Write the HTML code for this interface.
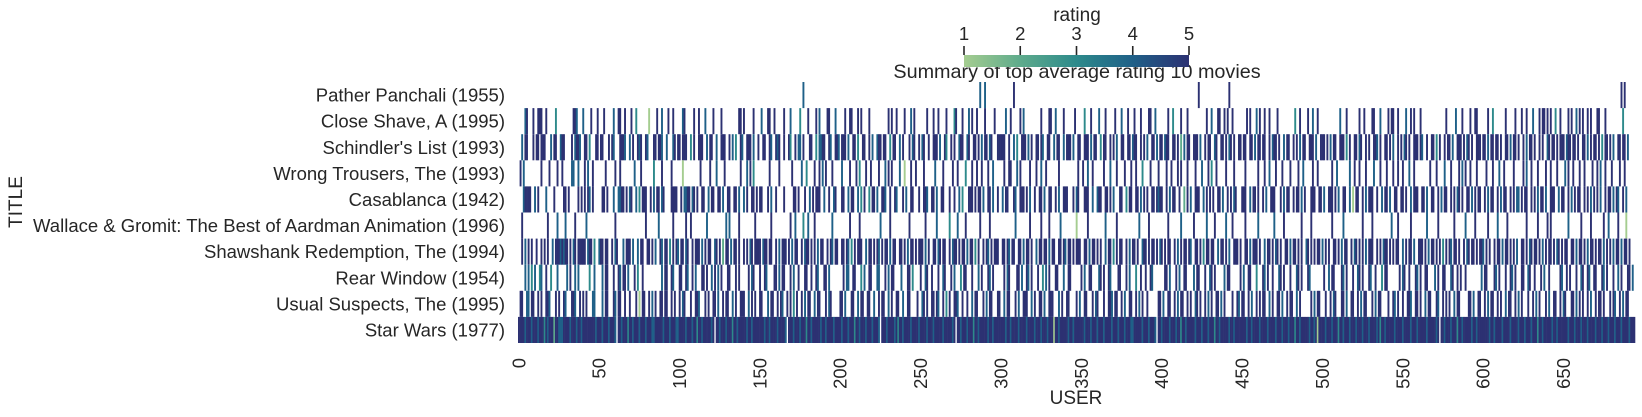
<!DOCTYPE html>
<html><head><meta charset="utf-8"><style>
body{margin:0;background:#fff;}
svg{display:block;font-family:"Liberation Sans","DejaVu Sans",sans-serif;}
</style></head><body>
<svg id="chart" width="1642" height="417">
<defs><linearGradient id="crest" x1="0" x2="1" y1="0" y2="0">
<stop offset="0" stop-color="#a5cd90"/><stop offset="0.25" stop-color="#5eab8c"/><stop offset="0.5" stop-color="#2d8a8b"/><stop offset="0.75" stop-color="#1f6088"/><stop offset="1" stop-color="#2c3172"/></linearGradient></defs>
<g id="cells"></g>
<g id="ylabels"></g>
<g id="xlabels"></g>
<text x="22" y="202" transform="rotate(-90 22 202)" text-anchor="middle" font-size="19" fill="#262626">TITLE</text>
<text x="1076" y="404" text-anchor="middle" font-size="19" fill="#262626">USER</text>
<text x="1077" y="78" text-anchor="middle" font-size="19.8" fill="#262626">Summary of top average rating 10 movies</text>
<g id="colorbar">
<text x="1077" y="21" text-anchor="middle" font-size="19" fill="#262626">rating</text>
<rect x="964" y="55" width="225" height="12" fill="url(#crest)"/>
</g>
</svg>
<script>
const titles=["Pather Panchali (1955)","Close Shave, A (1995)","Schindler's List (1993)","Wrong Trousers, The (1993)","Casablanca (1942)","Wallace & Gromit: The Best of Aardman Animation (1996)","Shawshank Redemption, The (1994)","Rear Window (1954)","Usual Suspects, The (1995)","Star Wars (1977)"];
const xTicks=[0,50,100,150,200,250,300,350,400,450,500,550,600,650];
const cbTicks=[1,2,3,4,5];
const row0Points=[[177,4],[287,4],[290,4],[308,5],[423,5],[442,5],[686,5],[688,5]];
const row1=
"....45...5..555..5.....3..........554...4....5...5"+"...5.....4..55..5...5..3.......1....5..4...5..5..."+"..45.....5..5...4....5....5..........55.5.....5..."+".4...55..5.....5...4.....3....5....5.4....55...4.."+"...5..55...5.5....5...........5.5..5....5...4.5..."+"....5...5..5....5....35...5...4.5..5....5.....5..."+"...4..5.....5.4..........5....55..4....5......5..."+"..3...5....4...5.....5...4...5...5...5....55..4..."+"....5..3....5...5...........5..4...55..5.5..5....."+"...5.5...4.5..5..5....5..........3..5....5..4..5.."+"...........4...5.......5..5....55...4....5.55..5.."+"..4..5.5...5...............5.....4...5....5..55..."+"...5..3.......5.....5...5..5...4...5.55.5.5..3..5."+"...5.5..4.5.5..5.5...55...5..........3";
const row2=
"..4.55...5.55.555...4.55..455....5.4554..55.3...55"+".55...5.54...5554..4.5..545..54...55.554..4...45.5"+"5.555..3.5..555..4.55..4..555..5.4.3..54..555.4..5"+"..55..54..545..5..53..5.44.5...55..3.4455..54..554"+".555.4..55.3..55..5.4..455.55..3.55..4.5...5.45..5"+".45..5..555.4..53..5.5..455..45..55.5.4.55.45...55"+"555..5..4.3..555.4.5..55.54..55..4.55..4.555.4..55"+"..555.4.55..3.55..5.5.4..55..55.455..5.5.4..55.4.5"+"5.455..55.5.2.4.55..555.4..5.55..45..55.5.45.5..55"+".55..55.4.55.55..5.455.5..4.55..5.5.4.55..555.4..5"+"55.5.4.55..555.3.5..55.45..5.5..554.5..55.5.4..5.5"+".45.5..555.54..5..55.3.5..5.55.4..555.5.45.5..555."+"55.4.55.55.5..55.4.55.5..5.4.55.5..5.5..45.55.5.55"+"5.455.55.5..55.4.5.55.5.3.55.5.4..55.55.4";
const row3=
".5.4..........5....5....5..5.....44..4...5.4..5..."+"....5.....5..5........4...5.......3....5.....5...."+"..1..........5.....5...4....5.........5...4.5.3..."+"......5.....5.......5.....4..3....5..5.4.5...5...."+".4....5...5.3...5..5....5...4.5.5....4..1...5..5.."+"..5......4....5.....5..5....3...5..5..5...5..4...."+"..5..55...4.5.....5...5..4..5.......5...........5."+".5..4..5......5...4...5....5...5..5...3....5....5."+"...5..5...5.5...5....5...4...5.3..5.....5....5...."+"..5.......5...5..4...5...5....5....5..4.....5..5.."+"......5..4.......4..5..5...5....4...5...5...5..5.."+"5...4..5.........5...5....4...5....5.4.5..5...5..."+"..5...5...4..5.....5.....5.4..5...5....5..5...5..."+".4.5..5...5..5....5..5.4..5...5....5..5.";
const row4=
"...45555..4.5....4....5.....55.5.....5.5.5.54.5..."+"..55.5...4..4455.5.45..4.3.555..5.4.55.45....5555."+".5.4455.45.5..55..4.55..55.4..55..55.4..4.5..55.5."+"55...5.4..5....5.....55.5...5..4.5.555..4..5..45.."+".55..4.55..4.3.5..3.55.4..554..5..54...5.4..55...5"+"..554..55.4..55...5..5..4.3...555.5.55.4..55.4..5."+".4.55...54..555.5.4..5..55.4..55..5.4..555...5.45."+"..555..4..455..55.5.4...55..3.55..55.4.5.5..55.54"+"55..5.4.55..5..2.5.4..555..4.5.5.5..55.4..5.5.45.."+".555..4.55.5..5.4..555...5.4.55..5.55.4.5...555..5"+"5.4..555.5.4..55..4.1.55..5.4.555..5..4.55.4..55."+".55.5..4.555..55.4..55..5.4.55..5.5.45.5..55.4.5."+"55..5.4.55..5.4.55..5.5.44.5.55..5.5.4.55.4..555."+".4.55..5.4.5.55..5.5.4.5.5.4..5.55.4.54"+"..5.4";
const row5=
"..5...............5.....4....4.....5......4......."+"..........5..................5.......4........5..."+"....5..5.........4...........4.4.....5.........5.."+".......5...........5..4....3..4...5..........4...."+"......5.....5............4.....5...........5......"+"...5......4.......3....4....5........5.....5......"+".........4........5......5....5......4.........1.."+"....5..........4......5.............4.....5......."+"....5.......4.......5.......4....5......4...5....."+"..5.......4.........4.....5..........5.....5......"+"......5......4...........5.....5...........4...5.."+".....5.........4......5.........5......4.....5...."+"...5.....4.....5...........5......5.....5.5......."+"...4.......5.....5.......5..4.....5....1";
const row6=
"..5.4.5.5..5..5.5.5..4.55545455.5.45.55555.455.3.."+"455.55..5.45...4.555.4..4.55..55.5.4..54.55.3.5.54"+".55.45..5.555.4.5.55..45.5.2.55.4.55.5..5.5.45.555"+"5.455.55..5.4.555.5.4.55..5.455.5.5.4.55..5.54.55."+".55.54.3.5.555..4.55.5.54.5.55.4.55..55.5.4.55.5.5"+"55.4.5..55.45.55..5.455.5.55.4.55.3.5..5.54.5.555."+".55.54.55..55.4.55.5..4.55.55.4.55..55.54.55.5.55"+"5..55.4.55.5.5..4.55.3.5.55..5.4.55.5..455.5.55.5"+".45.5.55..5.4.5.55.54..55.5.3.55.55..4.55.5.4..55"+"5.5..55.4.555.5..4.55.5.45.5..55.4.55.5.5..45.5.5"+".55.4.5.5..55.5.4.55..5.45.5.5.4.555..5.5.455.5.5."+"55..4.5.55.4..555.5.4.55.5.5.3.5.54.55.5..5.45.55"+".5.554.5.5..5.55.4.55.5.5.4..55.5.45.55.5.4.5.55."+"5.45.5.55..55.4.55.5.4.55.5.55.4.5.5.4.5"+"5.4.55.5";
const row7=
"....4.4.3.4..34..5..3...4.....4.5..4.4......3..4.."+"..4.55...5..54.55.4...5.3..5...........4.55..54..."+"55..54..5.4...55.5..4.5.4.5...55...5.5.....5.45..."+"5..54....55.4.55...5.4..5...55..5..54...55.4......"+"..5.44..55...3.4..55...44...5.4.55....4...55.3...."+"5..45..5...5..45...5.4...3.55...5...4.5...54.5...."+"..5.45....55.4..54.5...5..3.4.5...55...4..55......"+"5.4..55....45.5..54....55...5.4...3..5..5..54....."+"..55.4...5.4..55....4.55...5..45.5.....4.55......"+"5.4..55...3...54.5..5...45.5...5...45.5...54......"+"..5..4.55....54.5...5..45.5...54..5...3.55......."+"5.45..5...54.5..55....4.5..55...45..5.5..5......."+"..4.55....54.5...5..54.5...55..45..5...5.4..5...."+"..54..5.5...5..45..54..55...54.5..."+"5..4.5...55.4..5.";
const row8=
".55..44.55..5.5..554...5.5..54...554..5.5.5...44.."+"..4.55...54.55..5..5...5.1.55..5.4.5..55.55..5.5.."+"5.45...5..554...5.5..55.4..5.55..4.5..555..4.5.5.."+"55...4.55..5.54..5.5.3.5..5.4.55..4.55...5.45...."+".55.4...55..4.55..55..4..5.55..4.5..55..4..55...."+"5..45.5..55.54..5.3.5..554..5..5..4.55...5.4.55.."+".55..4.55...5.4..555..4.5..55.4..555...4.5..55...."+"5.4..55...5.45...5..554.55..5.4..55..5.4.5..5...."+"..55.4..55..5.4.55..5.5..45.5..5.4.5..55.4.5...."+"5..54.55..5.4..5.5.55..4.5..55.4..5.55..4.5....."+".5.4.55...5..5.45...55.4..55..5.4.55...5.4.55...."+"5..54.5..5..554..55.5..4.55...54..5.5.5..4.55...."+".55.4..55..5.4.55..5.5..4.55..5.4.5...5..5.4.5..."+"5.4..55..5.45...55.4.5.5..5.4..5.55.5."+"..5.54..5.4.55";
const row9=
"55554555455545553545552554445555455545545555555545"+"55455545554.5545553554555455545554455555455545554"+"45555455545535545555545.554555455535545555545545555"+"55545545555455554.5554555455535545555545545555455"+"55455545553554555455545554.55545555453554555545555"+"45555455545555545555545.554555455535545555545545555"+"55545545555455554555545554555455515545555545545555"+"55455545554555455554555455545554455555455545554.55"+"45555455545535545555545554555455535545555545545555"+"55545545555455554555545554555455535545555545545155"+"55455545553554555455545554555455554535545555545555"+"45555455545555545555545.554555455535545555545545555"+"55545545555455554555545554555455535545555545545555"+"5545554555455545555455545554555455545"+"55545553545";
const rowStrings=[null,row1,row2,row3,row4,row5,row6,row7,row8,row9];
const N=695, X0=518, X1=1635, Y0=82, Y1=343;
const cw=(X1-X0)/N, rh=(Y1-Y0)/titles.length;
const xs=u=>X0+u*cw, ys=r=>Y0+r*rh;
const colors={1:"#a5cd90",2:"#5eab8c",3:"#2d8a8b",4:"#1f6088",5:"#2c3172"};
const NS="http://www.w3.org/2000/svg";
const cells=document.getElementById('cells');
function cell(r,u,v){
 const e=document.createElementNS(NS,'rect');
 e.setAttribute('x',xs(u).toFixed(2));e.setAttribute('y',ys(r).toFixed(2));
 e.setAttribute('width',(cw+0.3).toFixed(2));e.setAttribute('height',rh.toFixed(2));
 e.setAttribute('fill',colors[v]);
 
 
 cells.appendChild(e);
}
row0Points.forEach(p=>cell(0,p[0],p[1]));
for(let r=1;r<rowStrings.length;r++){
 const s=rowStrings[r];
 for(let u=0;u<Math.min(s.length,N);u++){const c=s[u];if(c!=='.')cell(r,u,+c);}
}
const yl=document.getElementById('ylabels');
titles.forEach((t,i)=>{
 const e=document.createElementNS(NS,'text');
 e.setAttribute('x',505);e.setAttribute('y',(ys(i)+rh/2+6.5).toFixed(1));
 e.setAttribute('text-anchor','end');e.setAttribute('font-size','18.5');e.setAttribute('fill','#262626');
 e.textContent=t;
 
 
 yl.appendChild(e);
});
const xl=document.getElementById('xlabels');
xTicks.forEach(v=>{
 const cx=xs(v+0.5), y=358;
 const e=document.createElementNS(NS,'text');
 e.setAttribute('x',(cx+6.5).toFixed(1));e.setAttribute('y',y);
 e.setAttribute('text-anchor','end');e.setAttribute('font-size','18.5');e.setAttribute('fill','#262626');
 e.setAttribute('transform','rotate(-90 '+(cx+6.5).toFixed(1)+' '+y+')');
 e.textContent=v;
 
 
 xl.appendChild(e);
});
const cb=document.getElementById('colorbar');
const cbx=v=>964+(v-1)*(225/4);
cbTicks.forEach(v=>{
 const l=document.createElementNS(NS,'line');
 l.setAttribute('x1',cbx(v));l.setAttribute('x2',cbx(v));l.setAttribute('y1',46);l.setAttribute('y2',55);
 l.setAttribute('stroke','#262626');l.setAttribute('stroke-width','1.6');
 
 
 cb.appendChild(l);
 const t=document.createElementNS(NS,'text');
 t.setAttribute('x',cbx(v));t.setAttribute('y',40);t.setAttribute('text-anchor','middle');
 t.setAttribute('font-size','18.5');t.setAttribute('fill','#262626');t.textContent=v;
 
 
 cb.appendChild(t);
});
</script>
</body></html>
